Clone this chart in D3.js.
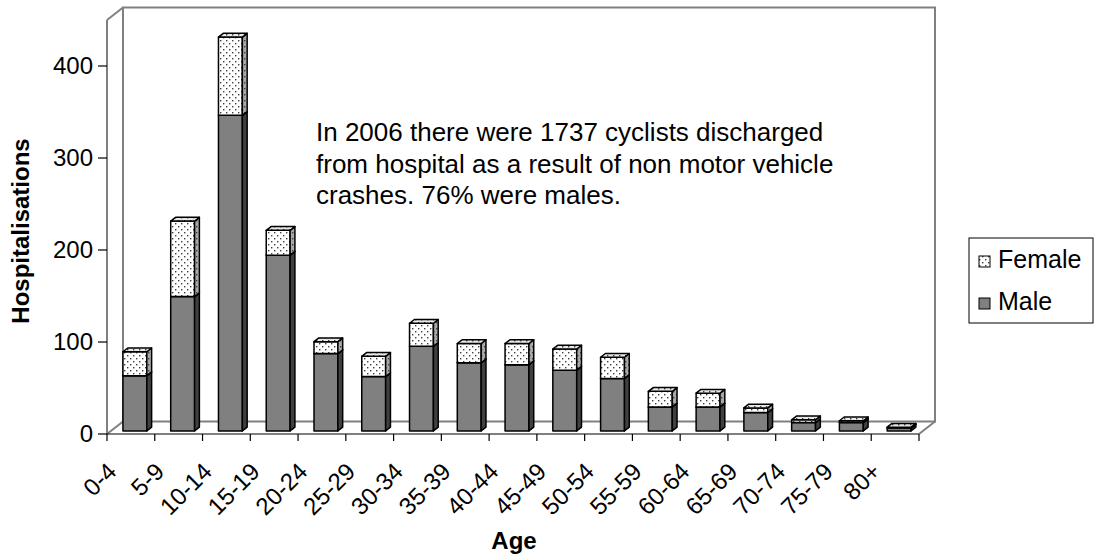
<!DOCTYPE html>
<html>
<head>
<meta charset="utf-8">
<script src="https://cdn.jsdelivr.net/npm/d3@7"></script>
<style>
  body { margin: 0; background: #fff; }
  svg { font-family: "Liberation Sans", Arial, sans-serif; }
</style>
</head>
<body>
<svg width="1099" height="560"></svg>
<script>
var ages = ["0-4", "5-9", "10-14", "15-19", "20-24", "25-29", "30-34", "35-39", "40-44",
            "45-49", "50-54", "55-59", "60-64", "65-69", "70-74", "75-79", "80+"];
var male   = [60, 146, 343, 191, 84, 59, 92, 74, 72, 66, 57, 26, 26, 20, 9, 9, 3];
var female = [26, 82, 85, 27, 13, 22, 25, 21, 23, 23, 23, 17, 15, 5, 3, 2, 1];
var yTicks = [0, 100, 200, 300, 400];
var note = ["In 2006 there were 1737 cyclists discharged",
            "from hospital as a result of non motor vehicle",
            "crashes. 76% were males."];

var svg = d3.select("svg");
var depth = [16, -12.5]; // 3d offset of the back wall

var x = d3.scaleBand().domain(ages).range([107, 919]);
var y = d3.scaleLinear().domain([0, 450]).range([434, 20]);

// point on the 3d grid: x pixel, value, depth fraction
function P(xv, v, d) { return [xv + d * depth[0], y(v) + d * depth[1]]; }
function pts(a) { return a.map(function(p) { return p.join(","); }).join(" "); }

// dotted fill patterns for the female part
var defs = svg.append("defs");
function dots(id, bg) {
  var p = defs.append("pattern").attr("id", id).attr("patternUnits", "userSpaceOnUse")
    .attr("width", 6).attr("height", 6);
  p.append("rect").attr("width", 6).attr("height", 6).attr("fill", bg);
  p.append("rect").attr("x", 1).attr("y", 1).attr("width", 1.4).attr("height", 1.4).attr("fill", "#404040");
  p.append("rect").attr("x", 4).attr("y", 4).attr("width", 1.4).attr("height", 1.4).attr("fill", "#404040");
}
dots("fFront", "#ffffff");
dots("fSide", "#a8a8a8");
dots("fTop", "#e8e8e8");

// walls and floor
var walls = svg.append("g").attr("fill", "none").attr("stroke", "#808080").attr("stroke-width", 2);
walls.append("polyline").attr("points", pts([P(107, 0, 1), P(107, 450, 1), P(919, 450, 1), P(919, 0, 1), P(107, 0, 1)]));
walls.append("polyline").attr("points", pts([P(107, 450, 0), P(107, 450, 1)]));
walls.append("polyline").attr("points", pts([P(107, 0, 0), P(107, 0, 1)]));
walls.append("polyline").attr("points", pts([P(919, 0, 0), P(919, 0, 1)]));
walls.append("polyline").attr("points", pts([P(107, 0, 0), P(107, 450, 0)]));

// axes
var ax = svg.append("g").attr("stroke", "#000").attr("stroke-width", 1.2);
ax.append("line").attr("x1", 107).attr("x2", 919).attr("y1", y(0)).attr("y2", y(0));
ax.selectAll(".xt").data(ages.concat(["end"])).enter().append("line")
  .attr("x1", function(d, i) { return 107 + i * x.bandwidth(); })
  .attr("x2", function(d, i) { return 107 + i * x.bandwidth(); })
  .attr("y1", y(0)).attr("y2", y(0) + 7);
ax.selectAll(".yt").data(yTicks).enter().append("line")
  .attr("x1", 98).attr("x2", 107).attr("y1", y).attr("y2", y);

svg.append("g").selectAll("text").data(yTicks).enter().append("text")
  .attr("x", 93).attr("y", function(d) { return y(d); }).attr("dy", "0.35em")
  .attr("text-anchor", "end").attr("font-size", 24).text(function(d) { return d; });

svg.append("g").selectAll("text").data(ages).enter().append("text")
  .attr("transform", function(d) {
    return "translate(" + (x(d) + x.bandwidth() / 2 - 13) + "," + (y(0) + 39) + ") rotate(-45)";
  })
  .attr("text-anchor", "end").attr("font-size", 24).text(function(d) { return d; });

// bars
var d0 = 0.25, d1 = 0.55;
function segment(g, c, v0, v1, front, side, top) {
  var x0 = x(c) + x.bandwidth() * 0.25, x1 = x0 + x.bandwidth() * 0.5;
  g.append("polygon").attr("points", pts([P(x0, v0, d0), P(x1, v0, d0), P(x1, v1, d0), P(x0, v1, d0)])).attr("fill", front);
  g.append("polygon").attr("points", pts([P(x1, v0, d0), P(x1, v0, d1), P(x1, v1, d1), P(x1, v1, d0)])).attr("fill", side);
  g.append("polygon").attr("points", pts([P(x0, v1, d0), P(x1, v1, d0), P(x1, v1, d1), P(x0, v1, d1)])).attr("fill", top);
}
var bars = svg.append("g").attr("stroke", "#000").attr("stroke-width", 1.5).attr("stroke-linejoin", "round");
ages.forEach(function(c, i) {
  var g = bars.append("g");
  segment(g, c, 0, male[i], "#808080", "#404040", "#808080");
  segment(g, c, male[i], male[i] + female[i], "url(#fFront)", "url(#fSide)", "url(#fTop)");
});

// annotation
svg.append("g").selectAll("text").data(note).enter().append("text")
  .attr("x", 316).attr("y", function(d, i) { return 141 + i * 31.5; })
  .attr("font-size", 26).text(function(d) { return d; });

// axis titles
svg.append("text").attr("transform", "translate(29,231) rotate(-90)")
  .attr("text-anchor", "middle").attr("font-size", 24).attr("font-weight", "bold").text("Hospitalisations");
svg.append("text").attr("x", 514).attr("y", 549)
  .attr("text-anchor", "middle").attr("font-size", 24).attr("font-weight", "bold").text("Age");

// legend
var lg = svg.append("g");
lg.append("rect").attr("x", 969).attr("y", 238).attr("width", 124).attr("height", 85)
  .attr("fill", "#fff").attr("stroke", "#000").attr("stroke-width", 1);
var items = [["Female", "url(#fFront)"], ["Male", "#808080"]];
items.forEach(function(it, i) {
  lg.append("rect").attr("x", 979).attr("y", 256 + i * 42).attr("width", 11).attr("height", 11)
    .attr("fill", it[1]).attr("stroke", "#000").attr("stroke-width", 1);
  lg.append("text").attr("x", 998).attr("y", 268 + i * 42).attr("font-size", 25).text(it[0]);
});
</script>
</body>
</html>
